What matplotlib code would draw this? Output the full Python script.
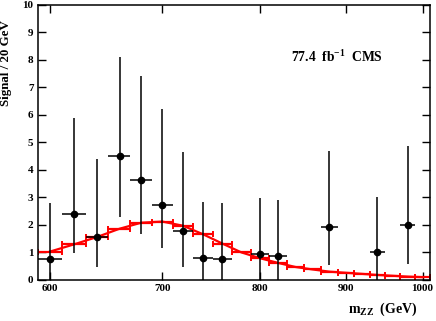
import numpy as np
import matplotlib
matplotlib.use("Agg")
import matplotlib.pyplot as plt
from matplotlib.ticker import FixedLocator, NullLocator, FormatStrFormatter

plt.rcParams['font.family'] = 'Liberation Serif'
plt.rcParams['font.weight'] = 'bold'
plt.rcParams['mathtext.fontset'] = 'custom'
plt.rcParams['mathtext.rm'] = 'Liberation Serif:bold'
plt.rcParams['mathtext.bf'] = 'Liberation Serif:bold'
plt.rcParams['mathtext.it'] = 'Liberation Serif:bold'

# observed signal points (bin centre, value, lower/upper edge of error bar)
mzz = np.array([600, 620, 640, 660, 680, 700, 720, 740, 760, 800, 820, 880, 940, 980])
signal = np.array([0.76, 2.38, 1.55, 4.52, 3.63, 2.72, 1.79, 0.81, 0.76, 0.96, 0.88, 1.94, 1.00, 2.00])
sig_lo = np.array([0.0, 0.97, 0.46, 2.28, 1.67, 1.15, 0.48, 0.0, 0.0, 0.0, 0.0, 0.55, 0.0, 0.57])
sig_hi = np.array([2.78, 5.88, 4.40, 8.12, 7.42, 6.22, 4.64, 2.82, 2.79, 2.97, 2.91, 4.67, 3.00, 4.88])

# expected curve (red)
mzz_exp = np.arange(600, 1001, 20)
expected = np.array([1.03, 1.29, 1.56, 1.86, 2.08, 2.12, 1.97, 1.66, 1.32, 1.00, 0.79,
                     0.62, 0.47, 0.38, 0.30, 0.26, 0.22, 0.18, 0.15, 0.12, 0.10])

bin_half = 10

fig = plt.figure(figsize=(4.36, 3.21), dpi=100)
ax = fig.add_axes([0.0865, 0.128, 0.8995, 0.857])

ax.plot(mzz_exp, expected, color='red', lw=1.6, zorder=2)
ax.errorbar(mzz_exp, expected, xerr=bin_half, fmt='none', ecolor='red',
            elinewidth=1.6, capsize=2.2, capthick=1.4, zorder=2)

ax.errorbar(mzz, signal, xerr=bin_half, yerr=[signal - sig_lo, sig_hi - signal],
            fmt='o', color='black', ms=4.5, elinewidth=1.1, capsize=0, zorder=3)

ax.set_xscale('log')
ax.set_xlim(590, 1010)
ax.set_ylim(0, 10)
ax.xaxis.set_major_locator(FixedLocator([600, 700, 800, 900, 1000]))
ax.xaxis.set_minor_locator(NullLocator())
ax.xaxis.set_major_formatter(FormatStrFormatter('%d'))
ax.set_yticks(range(0, 11))

ax.tick_params(direction='in', top=True, right=True, length=5.5, width=1.0,
               labelsize=8, pad=3)
for sp in ax.spines.values():
    sp.set_linewidth(1.1)

ax.set_ylabel('Signal / 20 GeV', fontsize=9.4, fontweight='bold', loc='top')
ax.yaxis.set_label_coords(-0.066, 0.944)
ax.set_xlabel(r'$\mathbf{m_{ZZ}}$  (GeV)', fontsize=10, fontweight='bold')
ax.xaxis.set_label_coords(0.88, -0.075)

ax.text(0.647, 0.81, r'77.4  fb$^{\mathbf{-1}}$  CMS', transform=ax.transAxes,
        fontsize=9.8, fontweight='bold', va='center', ha='left')

fig.savefig('out.png', dpi=100)
